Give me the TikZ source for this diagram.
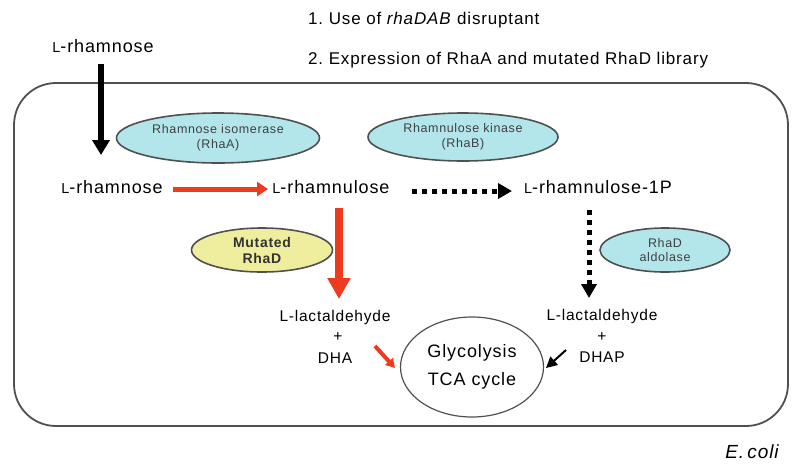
\documentclass[tikz,border=0pt]{standalone}
\usepackage{fontspec}
\setmainfont{Liberation Sans}[LetterSpace=5]
\usetikzlibrary{shapes.geometric,arrows.meta}
\definecolor{cyanfill}{HTML}{B2E6EA}
\definecolor{yelfill}{HTML}{EEEE9E}
\definecolor{arrred}{HTML}{EE3A1E}
\definecolor{edgegray}{HTML}{505050}
\newcommand\smL{\scalebox{0.8}{L}}
\tikzset{
  lbl/.style={inner sep=0pt, font=\fontsize{18}{21}\selectfont},
  toptxt/.style={inner sep=0pt, anchor=west, font=\fontsize{17}{20}\selectfont},
  prod/.style={inner sep=0pt, font=\fontsize{15.5}{18}\selectfont},
  enz/.style={ellipse, draw=edgegray, line width=1.6pt, fill=cyanfill, inner sep=0pt, align=center, font=\fontsize{12.5}{14.5}\selectfont, text=black!75},
  mutenz/.style={enz, fill=yelfill, font=\bfseries\fontsize{14}{16}\selectfont, text=black!80},
  redarrow/.style={draw=arrred, line width=5pt, -{Triangle[width=14pt,length=11pt]}, color=arrred},
  dotarrow/.style={draw=black, line width=5pt, dash pattern=on 5pt off 5pt, -{Triangle[width=15pt,length=14pt]}},
}
\begin{document}
\begin{tikzpicture}[x=1pt,y=-1pt]
\useasboundingbox (0,0) rectangle (800,467);
% cell
\draw[edgegray, line width=1.8pt, rounded corners=42pt] (14,83) rectangle (788,426);
% top text
\node[toptxt] (t1) at (308,20) {1.\ Use of \textit{rhaDAB} disruptant};
\node[toptxt] (t2) at (308,60) {2.\ Expression of RhaA and mutated RhaD library};
\node[lbl] (lrh0) at (103,46) {\smL-rhamnose};
% enzymes
\node[enz, minimum width=203pt, minimum height=50pt] (rhaA) at (218,138) {Rhamnose isomerase\\(RhaA)};
\node[enz, minimum width=190pt, minimum height=48pt] (rhaB) at (463,137) {Rhamnulose kinase\\(RhaB)};
\node[mutenz, minimum width=141pt, minimum height=44pt] (mut) at (262,250) {Mutated\\RhaD};
\node[enz, minimum width=130pt, minimum height=44pt] (rhaD) at (665,250) {RhaD\\aldolase};
% metabolites
\node[lbl] (lrh) at (112,187) {\smL-rhamnose};
\node[lbl] (lru) at (331,187) {\smL-rhamnulose};
\node[lbl] (lru1p) at (598,187) {\smL-rhamnulose-1P};
\node[prod] (lact1) at (335,317) {L-lactaldehyde};
\node[prod] (plus1) at (338,337) {+};
\node[prod] (dha) at (335,358) {DHA};
\node[prod] (lact2) at (602,316) {L-lactaldehyde};
\node[prod] (plus2) at (602,337) {+};
\node[prod] (dhap) at (602,357) {DHAP};
\node[ellipse, draw=edgegray, line width=1.2pt, minimum width=143pt, minimum height=100pt, inner sep=0pt, align=center, font=\fontsize{18}{28}\selectfont] (glyc) at (472,367) {Glycolysis\\TCA cycle};
\node[inner sep=0pt, font=\itshape\fontsize{19}{21}\selectfont] (ecoli) at (752,452) {E.\,coli};
% arrow coordinates
\coordinate (a0s) at (101,64);
\coordinate (a0e) at (101,155);
\coordinate (r1s) at (173,189);
\coordinate (r1e) at (268,189);
\coordinate (d1s) at (412,191);
\coordinate (d1e) at (512,191);
\coordinate (r2s) at (339,208);
\coordinate (r2e) at (339,299);
\coordinate (d2s) at (589,210);
\coordinate (d2e) at (589,298);
\coordinate (r3s) at (375,346);
\coordinate (r3e) at (395,368);
\coordinate (b3s) at (566,350);
\coordinate (b3e) at (546,368);
% arrows
\draw[line width=6pt, -{Triangle[width=17pt,length=15pt]}] (a0s) -- (a0e);
\draw[redarrow] (r1s) -- (r1e);
\draw[dotarrow] (d1s) -- (d1e);
\draw[redarrow, line width=8pt, -{Triangle[width=22pt,length=21pt]}] (r2s) -- (r2e);
\draw[dotarrow] (d2s) -- (d2e);
\draw[draw=arrred, line width=4pt, -{Triangle[width=10pt,length=9pt]}, color=arrred] (r3s) -- (r3e);
\draw[line width=2pt, -{Triangle[width=11pt,length=11pt]}] (b3s) -- (b3e);
\end{tikzpicture}
\end{document}
